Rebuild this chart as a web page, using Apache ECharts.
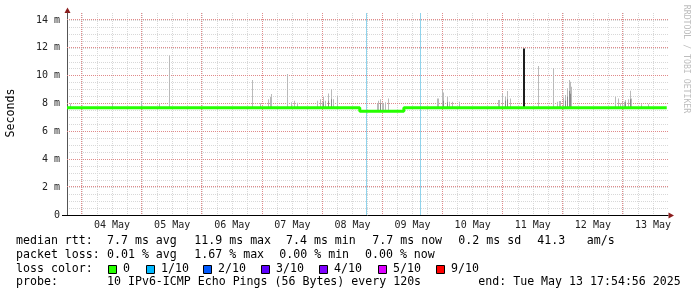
<!DOCTYPE html>
<html><head><meta charset="utf-8">
<script src="https://cdn.jsdelivr.net/npm/echarts@6/dist/echarts.min.js"></script>
<style>html,body{margin:0;padding:0;background:#fff}#c{width:697px;height:297px}</style>
</head><body><div id="c"></div>
<script>
// ---- data (times are May 2025, wall clock) ----
const medianTimes  = ['05-03 18:00', '05-08 14:55', '05-09 08:31', '05-13 17:30'];
const medianValues = [7.7, 7.45, 7.7, 7.7];

const smokeTimes = ['05-03 19:12','05-04 12:06','05-04 23:53','05-05 06:55','05-05 10:55',
  '05-06 20:07','05-06 23:12','05-07 02:36','05-07 03:12','05-07 03:36','05-07 10:07',
  '05-07 11:36','05-07 12:48','05-07 14:00',
  '05-07 21:53','05-07 23:12','05-07 23:53','05-08 00:31','05-08 01:12','05-08 02:24','05-08 03:29','05-08 04:24','05-08 05:53',
  '05-08 21:53','05-08 22:24','05-08 23:12','05-09 00:00','05-09 00:31','05-09 01:12','05-09 02:17',
  '05-09 21:53','05-09 22:31','05-09 23:53','05-10 00:31','05-10 01:53','05-10 02:55','05-10 03:53','05-10 06:48',
  '05-10 22:07','05-10 22:31','05-10 23:53','05-11 00:55','05-11 01:53','05-11 02:55',
  '05-11 14:07','05-11 20:07',
  '05-11 21:53','05-11 22:31','05-11 23:12','05-12 00:24','05-12 01:12','05-12 01:53','05-12 02:31','05-12 02:55','05-12 03:19',
  '05-12 20:55','05-12 22:17','05-12 23:12','05-12 23:53','05-13 00:31','05-13 01:12','05-13 02:07','05-13 02:55','05-13 03:36',
  '05-13 07:36','05-13 10:24'];
const smokeTops = [8.0, 8.06, 8.18, 8.0, 11.45,
  9.69, 8.02, 8.3, 8.49, 8.69, 10.12,
  8.1, 8.2, 8.05,
  8.2, 8.3, 8.1, 8.49, 8.2, 8.73, 9.02, 8.3, 8.54,
  8.0, 8.2, 8.3, 8.1, 8.0, 8.1, 8.37,
  8.37, 8.37, 8.97, 8.8, 8.49, 8.13, 8.13, 8.13,
  8.26, 8.26, 8.73, 8.49, 8.9, 8.37,
  10.7, 10.55,
  8.13, 8.18, 8.18, 8.4, 8.61, 9.09, 9.69, 9.57, 9.2,
  8.49, 8.37, 8.02, 8.13, 8.13, 8.26, 8.3, 8.92, 8.37,
  7.95, 7.95];

const denseTimes = ['05-08 00:31','05-08 02:24','05-08 03:29','05-08 23:12','05-10 00:31','05-10 01:53',
  '05-11 00:55','05-11 01:53','05-12 01:12','05-12 01:53','05-12 02:31','05-12 02:55','05-13 01:12','05-13 02:55'];
const denseTops  = [8.1, 8.2, 8.3, 8.0, 8.2, 8.1, 8.2, 8.3, 8.2, 8.5, 8.9, 8.7, 8.1, 8.3];

const peakTimes = ['05-11 08:24'];
const peakTops  = [11.95];

const lossEventTimes = ['05-08 17:36', '05-09 14:55'];

const yTickLabels = ['0', '2 m', '4 m', '6 m', '8 m', '10 m', '12 m', '14 m'];
const dayLabels = ['04 May','05 May','06 May','07 May','08 May','09 May','10 May','11 May','12 May','13 May'];

const lossColors = ['#26ff00', '#00b8ff', '#0059ff', '#5e00ff', '#7e00ff', '#dd00ff', '#ff0000'];
const lossLabels = ['0', '1/10', '2/10', '3/10', '4/10', '5/10', '9/10'];
const rttTexts  = ['7.7 ms avg', '11.9 ms max', '7.4 ms min', '7.7 ms now', '0.2 ms sd', '41.3', 'am/s'];
const lossTexts = ['0.01 % avg', '1.67 % max', '0.00 % min', '0.00 % now'];
const probeText = '10 IPv6-ICMP Echo Pings (56 Bytes) every 120s';
const endText   = 'end: Tue May 13 17:54:56 2025';

// ---- helpers: x is hours since 04 May 00:00 ----
const START = Date.UTC(2025, 4, 4, 0, 0);
function hrs(s) {
  const [md, hm] = s.split(' ');
  const [M, D] = md.split('-').map(Number);
  const [H, Mi] = hm.split(':').map(Number);
  return (Date.UTC(2025, M - 1, D, H, Mi) - START) / 3600000;
}
const medT = medianTimes.map(hrs);
function medianAt(t) {
  let v = medianValues[0];
  for (let i = 0; i < medT.length; i++) if (t >= medT[i]) v = medianValues[i];
  return v;
}
const mk = (times, tops) => times.map((s, i) => { const t = hrs(s); return [t, medianAt(t), tops[i]]; });

const FONT = '"DejaVu Sans Mono", monospace';
const MAJOR = '#e08a8a', MINOR = '#d8d8d8';
const X_MIN = -6, X_MAX = 234, Y_MAX = 14.5;

// major grid positions derived from the tick label arrays
const midnights = dayLabels.map((d, i) => [i * 24, 0]);
const yMajor = yTickLabels.map((d, i) => [X_MIN, i * 2]).filter(p => p[1] > 0);

function crisp(p) { // same rounding ECharts uses for 1px split lines
  const d = Math.round(p * 2);
  return (d + 1) % 2 === 0 ? d / 2 : (d - 1) / 2;
}
function vGrid(params, api) {
  const cs = params.coordSys;
  const x = crisp(api.coord([api.value(0), 0])[0]);
  return { type: 'line', shape: { x1: x, y1: cs.y, x2: x, y2: cs.y + cs.height },
    style: { stroke: MAJOR, lineWidth: 1, lineDash: [1, 1] } };
}
function hGrid(params, api) {
  const cs = params.coordSys;
  const y = crisp(api.coord([X_MIN, api.value(1)])[1]);
  return { type: 'line', shape: { x1: cs.x, y1: y, x2: cs.x + cs.width, y2: y },
    style: { stroke: MAJOR, lineWidth: 1, lineDash: [1, 1] } };
}
function barRender(fill, w) {
  return function (params, api) {
    const t = api.value(0);
    const pHi = api.coord([t, api.value(2)]);
    const pLo = api.coord([t, api.value(1)]);
    return { type: 'rect', shape: { x: Math.floor(pHi[0]), y: pHi[1], width: w, height: pLo[1] - pHi[1] },
      style: { fill: fill } };
  };
}

// ---- legend graphics ----
const L = { x0: 16, x1: 107, rows: [241.3, 254.7, 268.7, 282] };
const rttX = [107, 194.3, 286, 372.3, 458.3, 537.3, 586.7];
const lossX = [107, 194.3, 279.3, 365];
const sqX = [108.3, 146, 203.3, 261, 319, 377.7, 435.7];
const txt = (text, x, y, extra) => Object.assign({ type: 'text', x: x, y: y, silent: true,
  style: { text: text, font: '11.6px ' + FONT, fill: '#000', align: 'left', verticalAlign: 'middle' } }, extra || {});

const graphics = [];
graphics.push(txt('median rtt:', L.x0, L.rows[0]));
rttTexts.forEach((s, i) => graphics.push(txt(s, rttX[i], L.rows[0])));
graphics.push(txt('packet loss:', L.x0, L.rows[1]));
lossTexts.forEach((s, i) => graphics.push(txt(s, lossX[i], L.rows[1])));
graphics.push(txt('loss color:', L.x0, L.rows[2]));
lossColors.forEach((c, i) => {
  graphics.push({ type: 'rect', silent: true, shape: { x: Math.round(sqX[i]) + 0.5, y: 265.5, width: 8, height: 8 },
    style: { fill: c, stroke: '#000', lineWidth: 1 } });
  graphics.push(txt(lossLabels[i], Math.round(sqX[i]) + 15, L.rows[2]));
});
graphics.push(txt('probe:', L.x0, L.rows[3]));
graphics.push(txt(probeText, L.x1, L.rows[3]));
graphics.push(txt(endText, 478.3, L.rows[3]));
graphics.push({ type: 'text', x: 11, y: 113, rotation: Math.PI / 2, silent: true,
  style: { text: 'Seconds', font: '11.6px ' + FONT, fill: '#000', align: 'center', verticalAlign: 'middle' } });
graphics.push({ type: 'text', x: 686, y: 59, rotation: -Math.PI / 2, silent: true,
  style: { text: 'RRDTOOL / TOBI OETIKER', font: '8.2px ' + FONT, fill: '#bdbdbd', align: 'center', verticalAlign: 'middle' } });
// axis extensions and arrows
graphics.push({ type: 'line', silent: true, shape: { x1: 67.5, y1: 13, x2: 67.5, y2: 10 }, style: { stroke: '#555', lineWidth: 1 } });
graphics.push({ type: 'line', silent: true, shape: { x1: 62, y1: 215.5, x2: 67, y2: 215.5 }, style: { stroke: '#000', lineWidth: 1 } });
graphics.push({ type: 'polygon', silent: true, shape: { points: [[67.5, 7.5], [64.5, 13], [70.5, 13]] }, style: { fill: '#8b1c1c' } });
graphics.push({ type: 'polygon', silent: true, shape: { points: [[674, 215.5], [668.5, 212.5], [668.5, 218.5]] }, style: { fill: '#8b1c1c' } });

const dotted = c => ({ color: c, width: 1, type: [1, 1] });

const chart = echarts.init(document.getElementById('c'), null, { renderer: 'canvas' });
chart.setOption({
  animation: false,
  backgroundColor: '#fff',
  grid: { left: 67, right: 29, top: 13, bottom: 82, containLabel: false },
  xAxis: {
    type: 'value', min: X_MIN, max: X_MAX, interval: 6,
    axisLine: { show: true, onZero: false, lineStyle: { color: '#000', width: 1 } },
    axisTick: { show: false },
    axisLabel: {
      margin: 5, color: '#222', fontFamily: FONT, fontSize: 10,
      formatter: v => {
        if (((v % 24) + 24) % 24 !== 12) return '';
        return dayLabels[(v - 12) / 24] || '';
      }
    },
    splitLine: { show: true, showMinLine: false, showMaxLine: false, lineStyle: dotted(MINOR) }
  },
  yAxis: {
    type: 'value', min: 0, max: Y_MAX, interval: 0.5,
    axisLine: { show: true, onZero: false, lineStyle: { color: '#555', width: 1 } },
    axisTick: { show: false },
    axisLabel: {
      margin: 7, color: '#222', fontFamily: FONT, fontSize: 10,
      formatter: v => (Math.abs(v % 2) < 1e-9 ? (yTickLabels[Math.round(v / 2)] || '') : '')
    },
    splitLine: { show: true, showMinLine: false, showMaxLine: false, lineStyle: dotted(MINOR) }
  },
  series: [
    { type: 'custom', name: 'majorGridX', silent: true, renderItem: vGrid, data: midnights, z: 1 },
    { type: 'custom', name: 'majorGridY', silent: true, renderItem: hGrid, data: yMajor, z: 1 },
    { type: 'custom', name: 'smoke', renderItem: barRender('#bababa', 1), data: mk(smokeTimes, smokeTops), z: 2 },
    { type: 'custom', name: 'dense', renderItem: barRender('#8a8a8a', 1), data: mk(denseTimes, denseTops), z: 3 },
    { type: 'custom', name: 'peak', renderItem: barRender('#1e1e1e', 2), data: mk(peakTimes, peakTops), z: 4 },
    {
      type: 'line', name: 'median', step: 'end', showSymbol: false, z: 5,
      data: medianTimes.map((s, i) => [hrs(s), medianValues[i]]),
      lineStyle: { color: '#26ff00', width: 3 },
      markLine: {
        silent: true, symbol: ['none', 'none'], label: { show: false },
        lineStyle: { color: '#8fd3ec', width: 1, type: 'solid' },
        data: lossEventTimes.map(s => ({ xAxis: hrs(s) }))
      }
    }
  ],
  graphic: graphics
});
</script>
</body></html>
